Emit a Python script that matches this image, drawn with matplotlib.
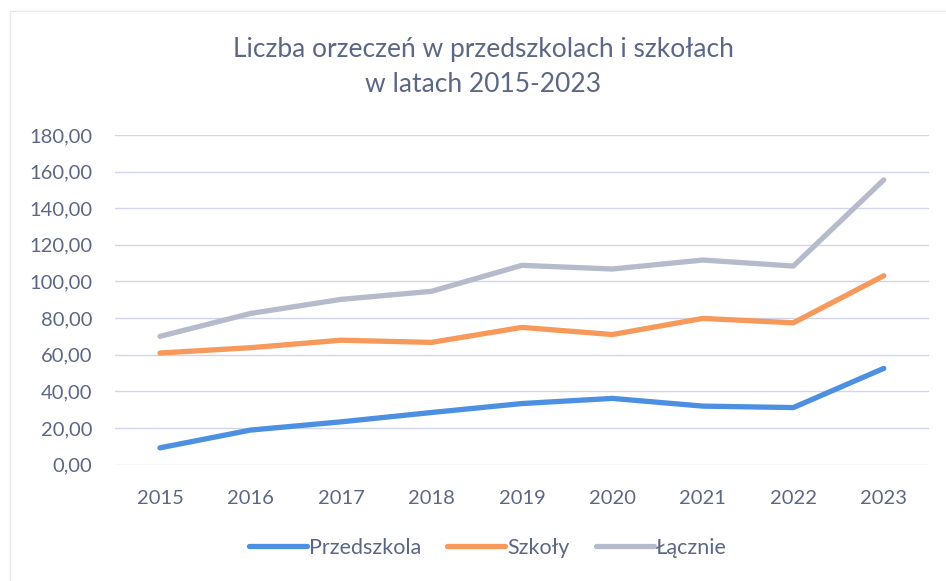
import matplotlib
matplotlib.use("Agg")
import matplotlib.pyplot as plt
from matplotlib.ticker import FuncFormatter
from matplotlib.patches import Rectangle

years = ["2015", "2016", "2017", "2018", "2019", "2020", "2021", "2022", "2023"]
przedszkola = [9.1, 18.8, 23.3, 28.4, 33.3, 36.1, 31.9, 31.1, 52.5]
szkoly = [60.9, 63.8, 67.9, 66.7, 74.9, 71.0, 79.8, 77.4, 103.1]
lacznie = [70.0, 82.5, 90.2, 94.6, 108.8, 106.8, 111.7, 108.4, 155.5]

plt.rcParams['font.family'] = ['Lato', 'DejaVu Sans']
text_color = '#5b6784'

fig = plt.figure(figsize=(9.46, 5.81), dpi=100)

# faint chart border
fig.patches.append(Rectangle((10/946, -0.05), 1.0, 1-11/581 + 0.05, transform=fig.transFigure,
                             fill=False, edgecolor='#e6e6ee', lw=1))

ax = fig.add_axes([114.75/946, 1-464.5/581, (929-114.75)/946, (464.5-135)/581])

x = list(range(len(years)))
ax.plot(x, przedszkola, color='#4d8fe0', lw=3.8, solid_capstyle='round', label='Przedszkola')
ax.plot(x, szkoly, color='#f6995a', lw=3.8, solid_capstyle='round', label='Szkoły')
ax.plot(x, lacznie, color='#b6bbcc', lw=3.8, solid_capstyle='round', label='Łącznie')

ax.set_xlim(-0.5, len(years) - 0.5)
ax.set_ylim(0, 180)
ax.set_yticks(range(0, 181, 20))
ax.yaxis.set_major_formatter(FuncFormatter(lambda v, p: f"{v:.2f}".replace('.', ',')))
ax.set_xticks(x)
ax.set_xticklabels(years)
ax.grid(axis='y', color='#d3d6ea', lw=1)
ax.set_axisbelow(True)
for s in ax.spines.values():
    s.set_visible(False)
ax.tick_params(axis='both', length=0, colors=text_color, labelsize=14.5)
ax.tick_params(axis='x', pad=18)
ax.tick_params(axis='y', pad=16)

fig.text(483/946, 1-67/581, "Liczba orzeczeń w przedszkolach i szkołach\nw latach 2015-2023",
         ha='center', va='center', fontsize=19, color=text_color, linespacing=1.45)

leg = fig.legend(loc='center', bbox_to_anchor=(488/946, 1-548/581), ncol=3, frameon=False,
                 fontsize=15.5, labelcolor=text_color, handlelength=2.7, handletextpad=0.1,
                 columnspacing=1.2)

fig.savefig("out.png", dpi=100, facecolor='white')
